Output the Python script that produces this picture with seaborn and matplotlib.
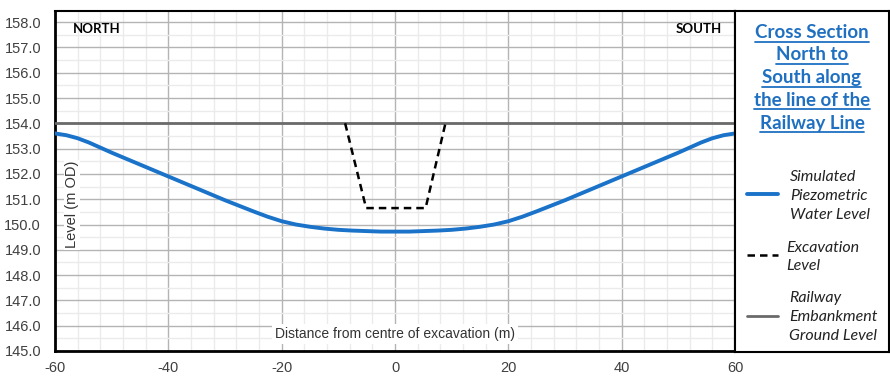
import matplotlib
matplotlib.use("Agg")
import matplotlib.pyplot as plt
from matplotlib.ticker import MultipleLocator
from matplotlib.lines import Line2D
import seaborn as sns
import pandas as pd

# Simulated piezometric water level along the railway line
distance = [-60, -58, -56, -54, -50, -45, -40, -35, -30, -27.5, -25, -22.5, -20,
            -17.5, -15, -12.5, -10, -7.5, -5, -2.5, 0,
            2.5, 5, 7.5, 10, 12.5, 15, 17.5, 20, 22.5, 25, 27.5, 30, 35, 40,
            45, 50, 54, 56, 58, 60]
water_level = [153.60, 153.53, 153.41, 153.24, 152.84, 152.37, 151.90, 151.43,
               150.96, 150.74, 150.52, 150.31, 150.13, 150.00, 149.91, 149.84,
               149.79, 149.76, 149.74, 149.72, 149.72,
               149.72, 149.74, 149.76, 149.79, 149.84, 149.91, 150.00, 150.13,
               150.31, 150.52, 150.74, 150.96, 151.43, 151.90, 152.37, 152.84,
               153.24, 153.41, 153.53, 153.60]

# Excavation profile
excav_x = [-8.8, -5.1, 5.4, 8.9]
excav_y = [154.0, 150.65, 150.65, 154.0]

# Railway embankment ground level
ground_x = [-60, 60]
ground_y = [154.0, 154.0]

x_ticks = [-60, -40, -20, 0, 20, 40, 60]
y_ticks = [145 + i for i in range(14)]

title_lines = ["Cross Section", "North to", "South along", "the line of the", "Railway Line"]
legend_labels = ["Simulated\nPiezometric\nWater Level", "Excavation\nLevel",
                 "Railway\nEmbankment\nGround Level"]

BLUE = "#1a73c9"
GREY = "#6a6a6a"

sns.set_style("white")
plt.rcParams["font.family"] = ["Liberation Sans", "DejaVu Sans"]

fig = plt.figure(figsize=(8.9, 3.82), dpi=100)
W, H = 890, 382
ax = fig.add_axes([55 / W, 1 - 351 / H, 680 / W, 340 / H])

water = pd.DataFrame({"x": distance, "y": water_level})
excav = pd.DataFrame({"x": excav_x, "y": excav_y})
ground = pd.DataFrame({"x": ground_x, "y": ground_y})

sns.lineplot(data=ground, x="x", y="y", ax=ax, color=GREY, lw=2.0, estimator=None, zorder=3)
sns.lineplot(data=excav, x="x", y="y", ax=ax, color="black", lw=1.8, estimator=None,
             linestyle=(0, (3, 2)), zorder=4)
sns.lineplot(data=water, x="x", y="y", ax=ax, color=BLUE, lw=2.8, estimator=None, zorder=5)

ax.set_xlim(-60, 60)
ax.set_ylim(145, 158.44)
ax.set_xticks(x_ticks)
ax.set_xticklabels([str(t) for t in x_ticks])
ax.set_yticks(y_ticks)
ax.set_yticklabels([f"{t:.1f}" for t in y_ticks])
ax.xaxis.set_minor_locator(MultipleLocator(4))
ax.yaxis.set_minor_locator(MultipleLocator(0.5))
ax.grid(which="major", color="#b4b4b4", lw=1.0)
ax.grid(which="minor", color="#ebebeb", lw=1.0)
ax.set_axisbelow(True)
ax.tick_params(which="both", length=0, labelsize=10.5, labelcolor="#404040")
ax.tick_params(axis="x", pad=7)
ax.tick_params(axis="y", pad=10)
ax.set_xlabel("")
ax.set_ylabel("")

for side in ["left", "bottom"]:
    ax.spines[side].set_linewidth(2.0)
    ax.spines[side].set_color("black")
for side in ["top", "right"]:
    ax.spines[side].set_linewidth(1.5)
    ax.spines[side].set_color("black")

# axis titles drawn inside the plot area
ax.text(0.5, 0.05, "Distance from centre of excavation (m)", transform=ax.transAxes,
        ha="center", va="center", fontsize=10, color="#333333", zorder=6,
        bbox=dict(facecolor="white", edgecolor="none", pad=2))
ax.text(0.025, 0.43, "Level (m OD)", transform=ax.transAxes, rotation=90,
        ha="center", va="center", fontsize=10.5, color="#333333", zorder=6,
        bbox=dict(facecolor="white", edgecolor="none", pad=1))

ax.text(0.026, 0.965, "NORTH", transform=ax.transAxes, ha="left", va="top",
        fontsize=9.5, fontweight="bold", family=["Lato", "DejaVu Sans"], color="black")
ax.text(0.98, 0.965, "SOUTH", transform=ax.transAxes, ha="right", va="top",
        fontsize=9.5, fontweight="bold", family=["Lato", "DejaVu Sans"], color="black")

# legend panel on the right, in pixel coordinates
lax = fig.add_axes([735 / W, 1 - 352 / H, 154 / W, 341 / H])
lax.set_xlim(735, 889)
lax.set_ylim(352, 11)
lax.set_xticks([])
lax.set_yticks([])
for side in lax.spines:
    lax.spines[side].set_linewidth(1.5)
    lax.spines[side].set_color("black")

title_y = [33, 55, 78, 100, 123]
title_texts = []
for line, ty in zip(title_lines, title_y):
    t = lax.text(812, ty, line, ha="center", va="center", fontsize=13.5,
                 fontweight="bold", family=["Lato", "DejaVu Sans"], color="#1f70c1")
    title_texts.append((t, ty))

lax.plot([747, 778], [194, 194], color=BLUE, lw=2.8)
lax.plot([747, 778], [255, 255], color="black", lw=1.8, linestyle=(0, (3, 2)))
lax.plot([747, 778], [316, 316], color=GREY, lw=2.0)
for label, lx, ly in zip(legend_labels, [790, 786, 789], [196, 257, 317]):
    lax.text(lx, ly, label, ha="left", va="center", fontsize=11.5, style="italic",
             family=["Lato", "DejaVu Sans"], color="#222222", linespacing=1.45)

# underline title lines
fig.canvas.draw()
renderer = fig.canvas.get_renderer()
for t, ty in title_texts:
    bb = t.get_window_extent(renderer)
    x0, x1 = bb.x0 / W, bb.x1 / W
    yline = 1 - (ty + 9) / H
    fig.add_artist(Line2D([x0, x1], [yline, yline], color="#1f70c1", lw=1.3))

fig.savefig("out.png", dpi=100)
